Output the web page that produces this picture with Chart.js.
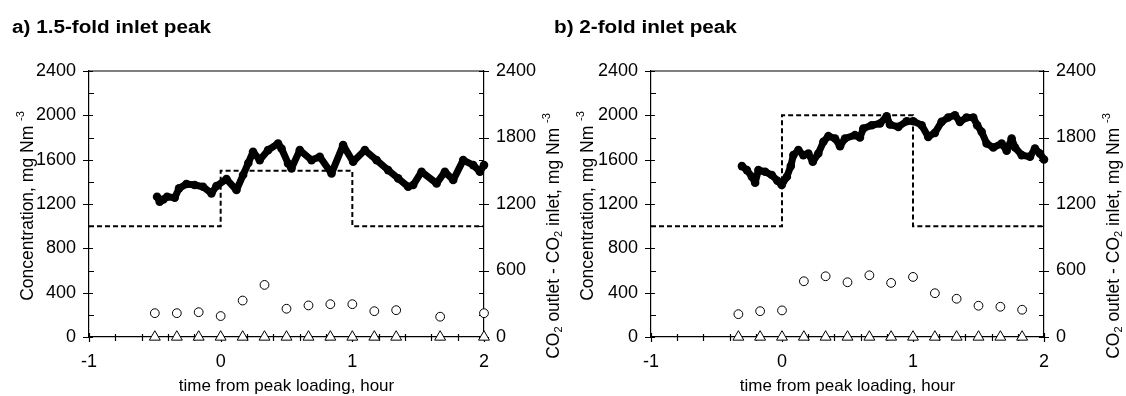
<!DOCTYPE html>
<html>
<head>
<meta charset="utf-8">
<script src="https://cdn.jsdelivr.net/npm/chart.js@4.4.0/dist/chart.umd.min.js"></script>
<style>
  html, body { margin: 0; padding: 0; background: #fff; }
  #wrap { position: relative; width: 1126px; height: 396px; overflow: hidden; }
  .panel { position: absolute; top: 0; }
  .title { position: absolute; top: 18px; margin: 0; white-space: nowrap;
           font: bold 18px "Liberation Sans", Arial, sans-serif; line-height: 18px; color: #000;
           transform: scaleX(1.15); transform-origin: left top; z-index: 2; }
</style>
</head>
<body>
<div id="wrap">
  <canvas id="chartA" class="panel" width="566" height="396" style="left:0"></canvas>
  <canvas id="chartB" class="panel" width="566" height="396" style="left:560px"></canvas>
  <div class="title" style="left:12px">a) 1.5-fold inlet peak</div>
  <div class="title" style="left:554px">b) 2-fold inlet peak</div>
</div>
<script>
// axis ticks
const timeTicks = [-1, 0, 1, 2];
const concTicks = [0, 400, 800, 1200, 1600, 2000, 2400];
const diffTicks = [0, 600, 1200, 1800, 2400];

// inlet step profile (dashed)
const stepTimes = [-1, 0, 0, 1, 1, 2];
const stepA = [1000, 1000, 1500, 1500, 1000, 1000];
const stepB = [1000, 1000, 2000, 2000, 1000, 1000];

// a) outlet concentration (filled dots)
const concTimesA = [-0.483, -0.463, -0.435, -0.407, -0.349, -0.316, -0.26, -0.197, -0.134, -0.07,
  -0.032, 0.044, 0.12, 0.17, 0.21, 0.246, 0.297, 0.36, 0.436, 0.462, 0.512, 0.538, 0.601, 0.69,
  0.753, 0.842, 0.93, 1.006, 1.095, 1.184, 1.272, 1.348, 1.424, 1.462, 1.526, 1.64, 1.703, 1.766,
  1.842, 1.918, 1.969, 2.0];
const concA = [1265, 1221, 1240, 1265, 1257, 1341, 1380, 1371, 1356, 1296,
  1362, 1425, 1326, 1461, 1570, 1671, 1596, 1686, 1746, 1701, 1566, 1521, 1686, 1596,
  1626, 1476, 1731, 1581, 1686, 1596, 1506, 1431, 1356, 1371, 1491, 1386, 1491, 1416,
  1596, 1551, 1491, 1551];

// a) open circles and triangles
const circleTimesA = [-0.5, -0.333, -0.167, 0, 0.167, 0.333, 0.5, 0.667, 0.833, 1, 1.167, 1.333, 1.667, 2];
const circleA = [215, 215, 224, 189, 329, 470, 255, 285, 296, 296, 233, 242, 183, 215];
const triTimesA = [-0.5, -0.333, -0.167, 0, 0.167, 0.333, 0.5, 0.667, 0.833, 1, 1.167, 1.333, 1.667, 2];
const triA = [0, 0, 0, 0, 0, 0, 0, 0, 0, 0, 0, 0, 0, 0];

// b) outlet concentration (filled dots)
const concTimesB = [-0.306, -0.268, -0.23, -0.205, -0.18, -0.129, -0.078, -0.035, -0.002, 0.037,
  0.067, 0.087, 0.125, 0.163, 0.201, 0.235, 0.277, 0.316, 0.354, 0.405, 0.443, 0.481, 0.557,
  0.595, 0.621, 0.685, 0.748, 0.799, 0.824, 0.888, 0.952, 1.002, 1.066, 1.116, 1.167, 1.218,
  1.269, 1.32, 1.358, 1.409, 1.46, 1.49, 1.524, 1.562, 1.613, 1.677, 1.715, 1.753, 1.779, 1.83,
  1.893, 1.931, 1.969, 2.0];
const concB = [1542, 1506, 1446, 1392, 1506, 1491, 1461, 1410, 1371, 1446,
  1542, 1641, 1686, 1641, 1656, 1581, 1656, 1761, 1812, 1791, 1722, 1791, 1821,
  1800, 1881, 1911, 1926, 1992, 1917, 1896, 1947, 1947, 1911, 1806, 1842, 1941,
  1980, 2001, 1941, 1980, 1980, 1911, 1851, 1746, 1710, 1746, 1680, 1791, 1710, 1641,
  1626, 1701, 1656, 1602];

// b) open circles and triangles
const circleTimesB = [-0.333, -0.167, 0, 0.167, 0.333, 0.5, 0.667, 0.833, 1, 1.167, 1.333, 1.5, 1.667, 1.833];
const circleB = [206, 233, 240, 503, 548, 494, 557, 488, 542, 395, 345, 282, 273, 246];
const triTimesB = [-0.333, -0.167, 0, 0.167, 0.333, 0.5, 0.667, 0.833, 1, 1.167, 1.333, 1.5, 1.667, 1.833];
const triB = [0, 0, 0, 0, 0, 0, 0, 0, 0, 0, 0, 0, 0, 0];

const FONT = '"Liberation Sans", Arial, sans-serif';

function pts(xs, ys) {
  return xs.map((x, i) => ({ x: x, y: ys[i] }));
}

// text with sub/superscripts, drawn centred at (x, y), optionally rotated
function drawRich(ctx, parts, x, y, rotate) {
  ctx.save();
  ctx.translate(x, y);
  if (rotate) ctx.rotate(-Math.PI / 2);
  ctx.fillStyle = '#000';
  ctx.textBaseline = 'middle';
  ctx.textAlign = 'left';
  let total = 0;
  parts.forEach(p => {
    ctx.font = (p.s ? '11px ' : '17.5px ') + FONT;
    total += ctx.measureText(p.t).width;
  });
  let cx = -total / 2;
  parts.forEach(p => {
    ctx.font = (p.s ? '11px ' : '17.5px ') + FONT;
    const dy = p.s === 'sup' ? -7 : (p.s === 'sub' ? 5 : 0);
    ctx.fillText(p.t, cx, dy);
    cx += ctx.measureText(p.t).width;
  });
  ctx.restore();
}

const leftTitle = [{ t: 'Concentration, mg Nm ' }, { t: '-3', s: 'sup' }];
const rightTitle = [{ t: 'CO' }, { t: '2', s: 'sub' }, { t: ' outlet - CO' }, { t: '2', s: 'sub' },
  { t: ' inlet, mg Nm ' }, { t: '-3', s: 'sup' }];

const frameTicks = {
  id: 'frameTicks',
  beforeDatasetsDraw(chart) {
    const { ctx, chartArea: a, scales } = chart;
    ctx.save();
    ctx.strokeStyle = '#000';
    ctx.lineWidth = 1.2;
    ctx.beginPath();
    ctx.moveTo(a.left, a.top);
    ctx.lineTo(a.right, a.top);
    for (let v = 0; v <= 2400; v += 200) {
      const y = Math.round(scales.y.getPixelForValue(v)) + 0.5;
      if (v % 400 === 0) { ctx.moveTo(a.left - 6, y); ctx.lineTo(a.left + 4, y); }
      else { ctx.moveTo(a.left, y); ctx.lineTo(a.left + 5, y); }
      if (v % 600 === 0) { ctx.moveTo(a.right - 5, y); ctx.lineTo(a.right + 5, y); }
      else { ctx.moveTo(a.right - 5, y); ctx.lineTo(a.right, y); }
    }
    for (let i = -5; i <= 10; i++) {
      const x = Math.round(scales.x.getPixelForValue(i / 5)) + 0.5;
      if (i % 5 === 0) { ctx.moveTo(x, a.bottom - 4); ctx.lineTo(x, a.bottom + 5); }
      else { ctx.moveTo(x, a.bottom - 3); ctx.lineTo(x, a.bottom + 4); }
    }
    ctx.stroke();
    ctx.restore();
  },
  afterDraw(chart) {
    const { ctx, chartArea: a } = chart;
    drawRich(ctx, leftTitle, 28, 206, true);
    drawRich(ctx, rightTitle, 554, 236, true);
    ctx.save();
    ctx.font = '17px ' + FONT;
    ctx.fillStyle = '#000';
    ctx.textAlign = 'center';
    ctx.textBaseline = 'alphabetic';
    ctx.fillText('time from peak loading, hour', (a.left + a.right) / 2, 391);
    ctx.restore();
  }
};

function makePanel(id, plotLeft, plotRight, concTimes, conc, step, circleTimes, circles, triTimes, tris) {
  const canvasW = 566;
  const tickFont = { family: FONT, size: 18 };
  const plain = v => String(v);
  return new Chart(document.getElementById(id), {
    type: 'scatter',
    data: {
      datasets: [
        {
          label: 'inlet',
          data: pts(stepTimes, step),
          showLine: true,
          borderColor: '#000',
          borderWidth: 2,
          borderDash: [5, 3],
          pointRadius: 0,
          yAxisID: 'y'
        },
        {
          label: 'outlet',
          data: pts(concTimes, conc),
          showLine: true,
          borderColor: '#000',
          borderWidth: 7,
          borderJoinStyle: 'round',
          borderCapStyle: 'round',
          pointRadius: 4.3,
          pointBackgroundColor: '#000',
          pointBorderWidth: 0,
          yAxisID: 'y',
          clip: false
        },
        {
          label: 'difference',
          data: pts(circleTimes, circles),
          pointRadius: 4.4,
          pointBorderWidth: 1,
          pointBorderColor: '#000',
          pointBackgroundColor: '#fff',
          yAxisID: 'y1',
          clip: false
        },
        {
          label: 'zero',
          data: pts(triTimes, tris),
          pointStyle: 'triangle',
          pointRadius: 6.3,
          pointBorderWidth: 1,
          pointBorderColor: '#000',
          pointBackgroundColor: '#fff',
          yAxisID: 'y1',
          clip: false
        }
      ]
    },
    options: {
      responsive: false,
      animation: false,
      events: [],
      layout: { padding: { top: 71, left: 0, right: 0, bottom: 0 } },
      plugins: { legend: { display: false }, tooltip: { enabled: false } },
      scales: {
        x: {
          type: 'linear',
          min: -1,
          max: 2,
          afterBuildTicks: s => { s.ticks = timeTicks.map(v => ({ value: v })); },
          afterFit: s => { s.height = 59; },
          grid: { display: false, drawTicks: false },
          border: { display: true, color: '#000', width: 1.2 },
          ticks: { color: '#000', font: tickFont, padding: 14, maxRotation: 0, callback: plain }
        },
        y: {
          position: 'left',
          min: 0,
          max: 2400,
          afterBuildTicks: s => { s.ticks = concTicks.map(v => ({ value: v })); },
          afterFit: s => { s.width = plotLeft; },
          grid: { display: false, drawTicks: false },
          border: { display: true, color: '#000', width: 1.2 },
          ticks: { color: '#000', font: tickFont, padding: 13, callback: plain }
        },
        y1: {
          position: 'right',
          min: 0,
          max: 2400,
          afterBuildTicks: s => { s.ticks = diffTicks.map(v => ({ value: v })); },
          afterFit: s => { s.width = canvasW - plotRight; },
          grid: { display: false, drawTicks: false },
          border: { display: true, color: '#000', width: 1.2 },
          ticks: { color: '#000', font: tickFont, padding: 12, callback: plain }
        }
      }
    },
    plugins: [frameTicks]
  });
}

makePanel('chartA', 89, 484, concTimesA, concA, stepA, circleTimesA, circleA, triTimesA, triA);
makePanel('chartB', 91, 484, concTimesB, concB, stepB, circleTimesB, circleB, triTimesB, triB);
</script>
</body>
</html>
